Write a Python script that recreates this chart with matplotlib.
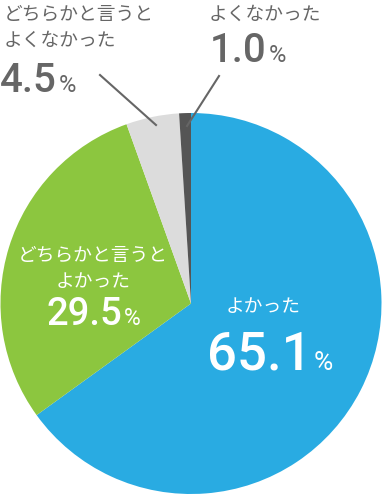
import matplotlib
matplotlib.use("Agg")
import matplotlib.pyplot as plt

plt.rcParams['font.family'] = ['Noto Sans CJK JP', 'DejaVu Sans']

# survey results (clockwise from 12 o'clock)
labels = ['よかった', 'どちらかと言うと\nよかった', 'どちらかと言うと\nよくなかった', 'よくなかった']
values = [65.1, 29.5, 4.5, 1.0]
colors = ['#29abe2', '#8cc63f', '#dcdcdc', '#555555']

W, H = 382, 496
fig = plt.figure(figsize=(W / 100, H / 100), dpi=100)
ax = fig.add_axes([0, 0, 1, 1])

cx, cy, r = 191, H - 303.5, 190.5
ax.pie(values, colors=colors, startangle=90, counterclock=False,
       center=(cx, cy), radius=r, frame=True,
       wedgeprops=dict(linewidth=0))
ax.set_xlim(0, W)
ax.set_ylim(0, H)
ax.set_aspect('equal')
ax.axis('off')

grey = '#666666'
num_font = 'Roboto'
renderer = fig.canvas.get_renderer()


def number(x, y, val, color, size, pct_size, gap=2):
    # big number with a small percent sign on the same baseline
    t = ax.text(x, H - y, f'{val:.1f}', color=color, fontsize=size,
                fontfamily=num_font, fontweight='medium',
                ha='left', va='baseline')
    bb = t.get_window_extent(renderer)
    px = ax.transData.inverted().transform((bb.x1, 0))[0]
    ax.text(px + gap, H - y, '%', color=color, fontsize=pct_size,
            fontfamily=num_font, fontweight='normal',
            ha='left', va='baseline')


# small-slice labels on the top, with leader lines
ax.text(4, H - 4, labels[2], color=grey, fontsize=13.5, ha='left', va='top',
        linespacing=1.3)
number(0, 92, values[2], grey, 29, 17)

ax.text(209, H - 4, labels[3], color=grey, fontsize=13.5, ha='left', va='top')
number(210, 62, values[3], grey, 29, 17)

ax.plot([100, 156], [H - 75, H - 125], color=grey, lw=1.5)
ax.plot([219, 187], [H - 76, H - 126], color=grey, lw=1.5)

# labels inside the big slices
ax.text(93, H - 245, labels[1], color='white', fontsize=13.5, ha='center',
        va='top', linespacing=1.3)
number(46, 325, values[1], 'white', 27.5, 16.5)

ax.text(263, H - 296, labels[0], color='white', fontsize=13.5, ha='center',
        va='top')
number(207, 370, values[0], 'white', 38, 19)

fig.savefig('out.png', dpi=100)
